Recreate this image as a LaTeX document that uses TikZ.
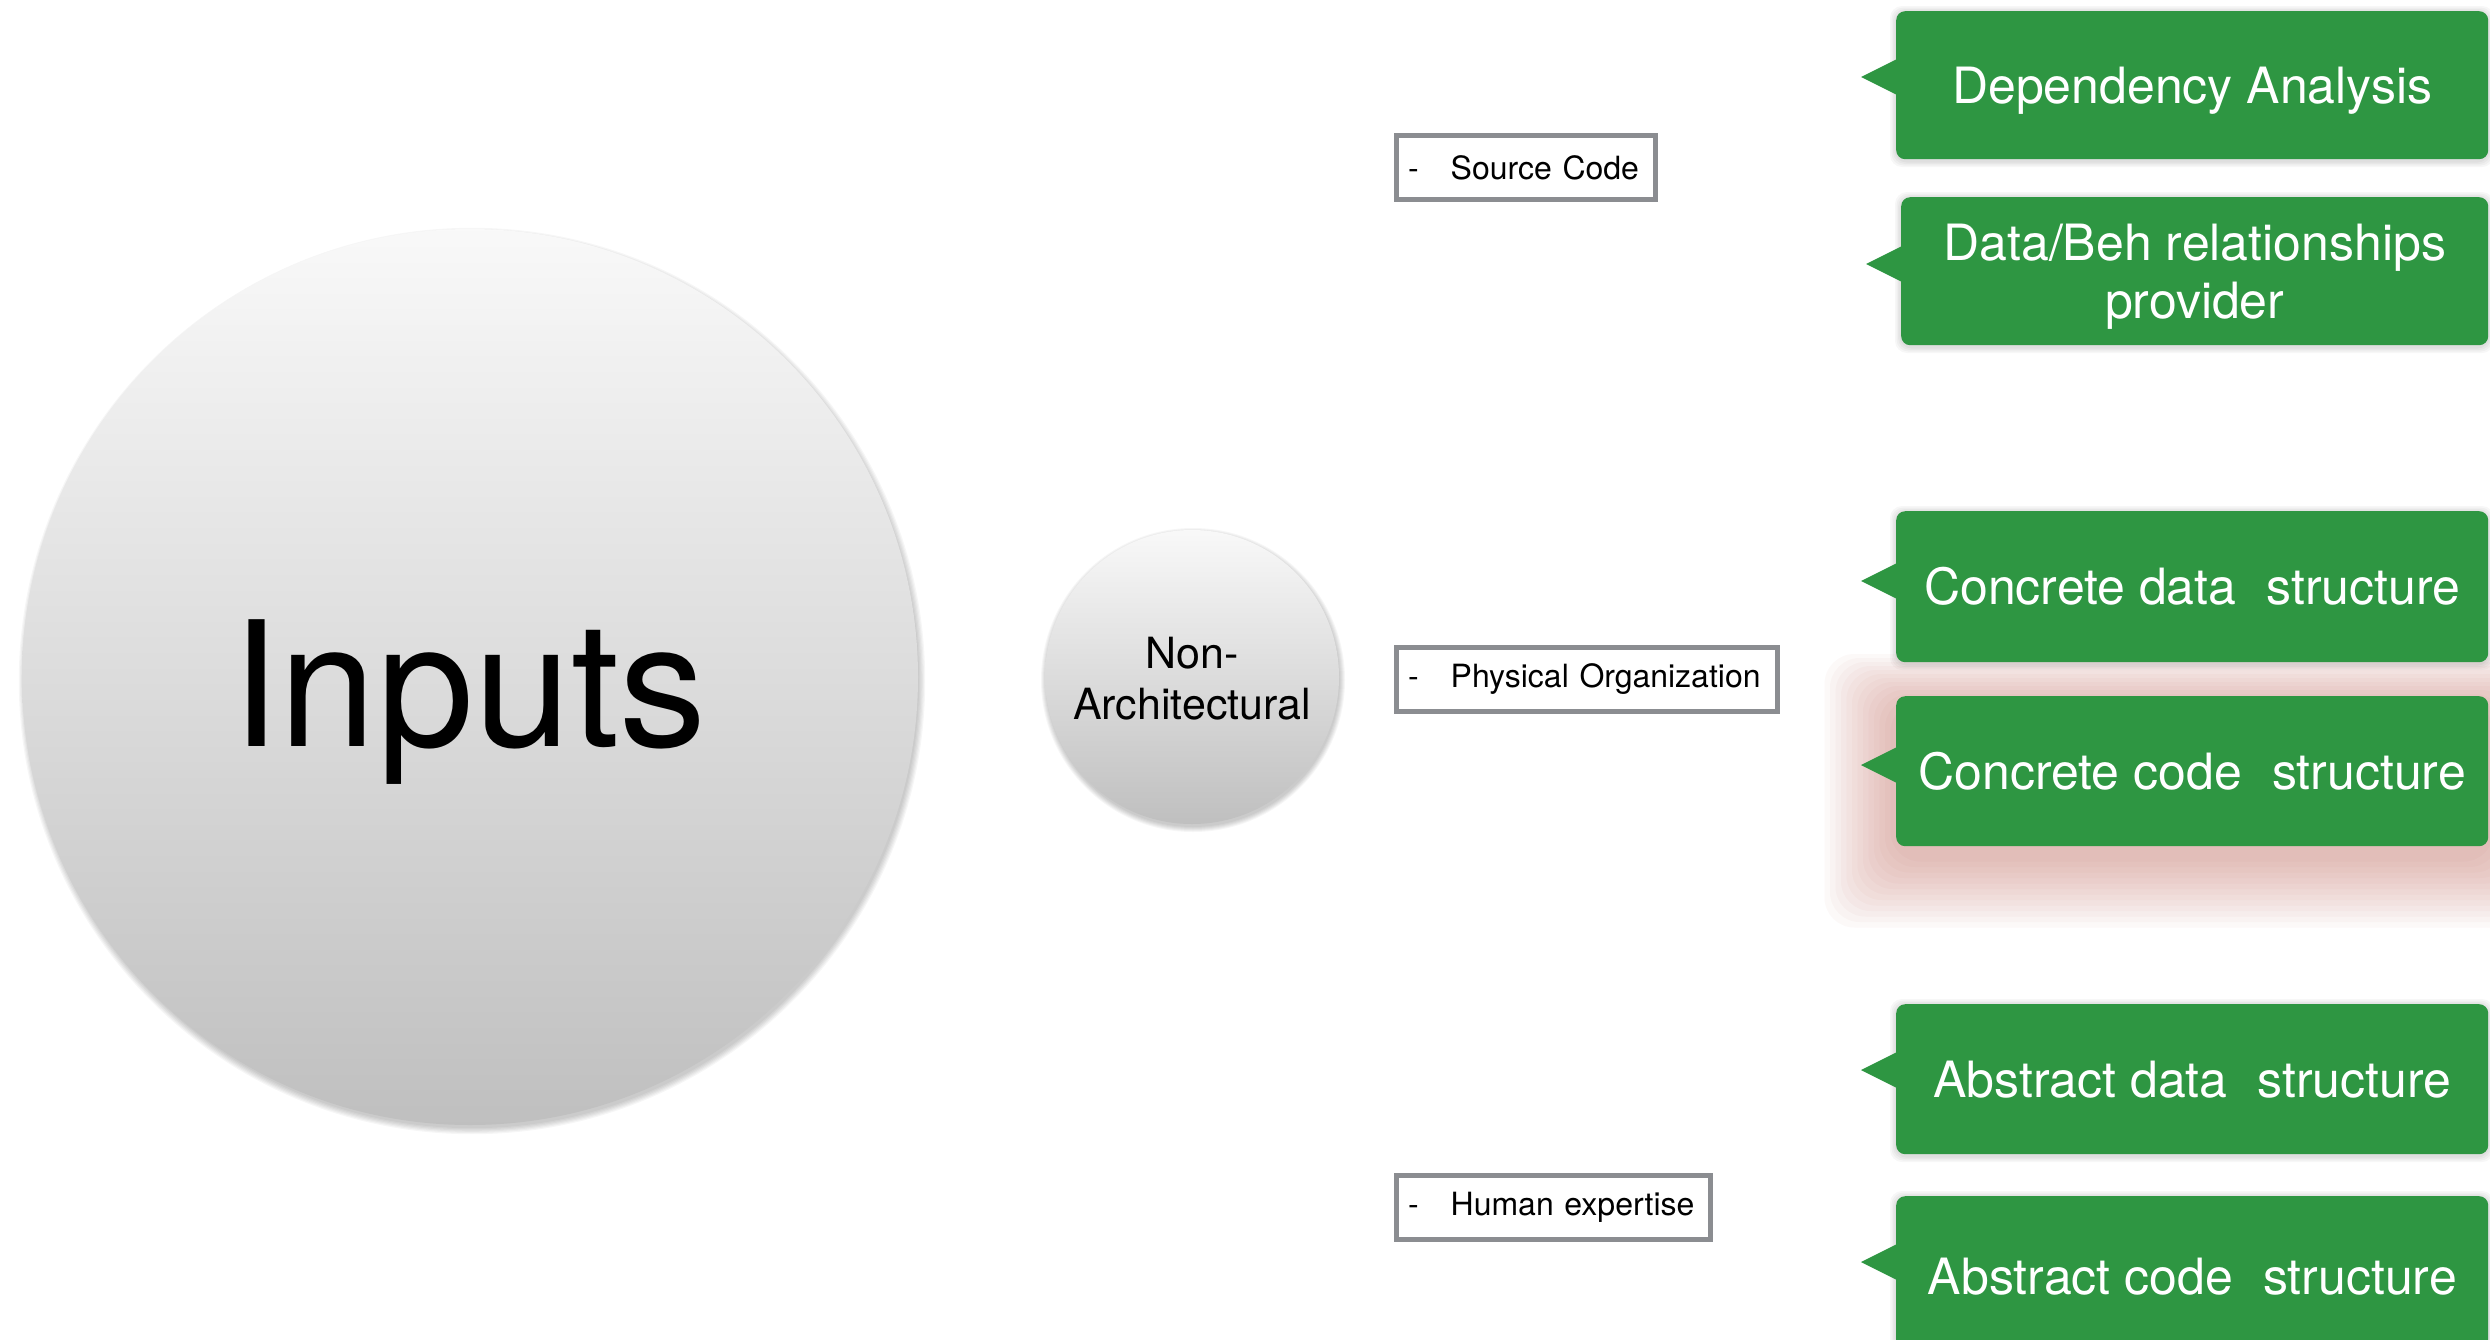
\documentclass[tikz,border=0pt]{standalone}
\usepackage{fontspec}
\setmainfont{TeX Gyre Heros}
\usetikzlibrary{calc}
\definecolor{boxgreen}{RGB}{46,150,66}
\definecolor{boxgray}{RGB}{139,141,145}
\definecolor{glowred}{RGB}{195,105,95}
\begin{document}
\begin{tikzpicture}[x=1pt,y=-1pt,
  ball/.style={circle, inner sep=0pt, top color=gray!5, bottom color=gray!50, draw=none},
  graybox/.style={draw=boxgray, line width=5pt, fill=white, inner xsep=11.5pt, inner ysep=0pt,
     minimum height=64pt, font=\fontsize{32}{38}\selectfont, align=left, anchor=west},
  callout/.style={fill=boxgreen, rounded corners=9pt, text=white, minimum width=592pt,
     inner sep=0pt, font=\fontsize{50}{58}\selectfont, align=center, anchor=north west},
  tipshape/.style={fill=boxgreen},
]
\useasboundingbox (0,0) rectangle (2490,1339);
\fill[white] (0,0) rectangle (2490,1339);

% soft shadows of the circles
\foreach \k in {1,...,6} {
  \fill[black, opacity=0.035] (472,681) circle ({446+1.2*\k});
  \fill[black, opacity=0.035] (1193,680) circle ({146+1.0*\k});
}
% soft shadows of the callouts
\foreach \y/\h/\x in {11/148/1896, 197/148/1901, 511/151/1896, 1004/150/1896, 1196/160/1896} {
  \foreach \k in {1,...,4} {
    \fill[black, opacity=0.03, rounded corners=12pt]
      ({\x-1.5*\k}, {\y+1-1.5*\k}) rectangle ({2488+1.5*\k}, {\y+\h+2+1.5*\k});
  }
}
% red glow of the highlighted callout
\foreach \k in {1,...,13} {
  \fill[glowred, opacity=0.04, rounded corners=30pt]
    ({1896-5.5*\k}, {696-4*\k+10}) rectangle ({2488+5.5*\k}, {846+5.5*\k+10});
}

% circles
\node[ball, minimum size=896pt] (inp) at (470,677) {};
\node[font=\fontsize{174}{180}\selectfont, anchor=base, inner sep=0pt] (inptext) at (469,746) {Inputs};
\node[ball, minimum size=294pt] (nonarch) at (1192,677) {};
\node[font=\fontsize{43}{51}\selectfont, align=center, inner sep=0pt] (nonarchtext) at (1192,679) {Non-\\Architectural};

% gray boxes
\node[graybox, text width=236pt] (src) at (1394,167.5) {-\hspace{32pt}Source Code};
\node[graybox, text width=358pt] (phys) at (1394,679) {-\hspace{32pt}Physical Organization};
\node[graybox, text width=291pt] (human) at (1394,1207) {-\hspace{32pt}Human expertise};

% callouts
\node[callout, minimum height=148pt, text depth=0pt] (dep) at (1896,11) {Dependency Analysis};
\node[callout, minimum height=148pt, minimum width=587pt, text depth=0pt] (dbr) at (1901,197) {Data/Beh relationships\\provider};
\node[callout, minimum height=151pt] (cds) at (1896,511) {Concrete data\hspace{0.6em}structure};
\node[callout, minimum height=150pt] (ccs) at (1896,696) {Concrete code\hspace{0.6em}structure};
\node[callout, minimum height=150pt] (ads) at (1896,1004) {Abstract data\hspace{0.6em}structure};
\node[callout, minimum height=160pt] (acs) at (1896,1196) {Abstract code\hspace{0.6em}structure};

% callout tips
\foreach \n/\d in {dep/48, dbr/49, cds/52, ccs/51, ads/48, acs/48} {
  \fill[tipshape] ($(\n.north west)+(1,\d)$) -- ++(-36,18) -- ++(36,18) -- cycle;
}
\end{tikzpicture}
\end{document}
